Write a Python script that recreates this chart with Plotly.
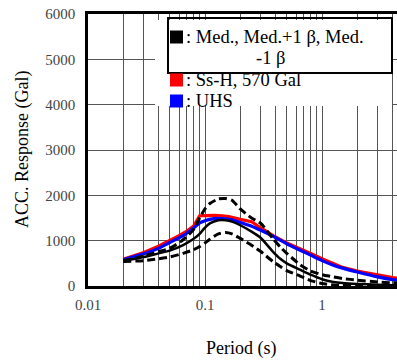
import plotly.graph_objects as go

# ---- data ----
period_ss = [0.02, 0.03, 0.04, 0.05, 0.06, 0.07, 0.08, 0.09, 0.1, 0.12, 0.14, 0.16, 0.2, 0.25, 0.3, 0.4, 0.5, 0.65, 0.8, 1.0, 1.5, 2.0, 3.0, 4.0, 5.0]
ss_h = [590, 740, 880, 1000, 1110, 1210, 1320, 1550, 1555, 1560, 1550, 1530, 1470, 1420, 1280, 1080, 950, 830, 720, 600, 410, 330, 240, 185, 155]

period = [0.02, 0.03, 0.04, 0.05, 0.065, 0.08, 0.09, 0.1, 0.11, 0.13, 0.15, 0.17, 0.2, 0.25, 0.3, 0.38, 0.44, 0.5, 0.65, 0.8, 1.0, 1.25, 1.5, 2.0, 3.0, 4.0, 5.0]
uhs = [580, 710, 830, 960, 1110, 1280, 1390, 1440, 1470, 1490, 1480, 1460, 1400, 1320, 1230, 1100, 1010, 930, 790, 680, 560, 460, 395, 310, 200, 140, 115]
med = [550, 640, 720, 780, 900, 1040, 1150, 1290, 1380, 1450, 1450, 1420, 1340, 1200, 1060, 760, 600, 500, 360, 250, 150, 90, 65, 45, 28, 18, 14]
med_p1 = [560, 660, 760, 830, 1020, 1250, 1500, 1700, 1820, 1920, 1930, 1890, 1700, 1500, 1380, 1050, 860, 720, 470, 330, 250, 200, 165, 130, 90, 70, 60]
med_m1 = [540, 560, 600, 640, 720, 800, 870, 950, 1030, 1150, 1180, 1150, 1050, 900, 760, 540, 430, 340, 220, 120, 55, 25, 15, 10, 6, 5, 4]

x_major = [0.01, 0.1, 1]
x_major_labels = ["0.01", "0.1", "1"]
y_ticks = [0, 1000, 2000, 3000, 4000, 5000, 6000]

legend_labels = [": Med., Med.+1 \u03b2, Med.", "-1 \u03b2", ": Ss-H, 570 Gal", ": UHS"]

# ---- figure ----
fig = go.Figure()
dash = "8px,4px"
fig.add_trace(go.Scatter(x=period_ss, y=ss_h, mode="lines", line=dict(color="#ff0000", width=3.2)))
fig.add_trace(go.Scatter(x=period, y=uhs, mode="lines", line=dict(color="#0000ff", width=3.2, shape="spline", smoothing=0.6)))
fig.add_trace(go.Scatter(x=period, y=med_p1, mode="lines", line=dict(color="black", width=3, dash=dash, shape="spline", smoothing=0.6)))
fig.add_trace(go.Scatter(x=period, y=med_m1, mode="lines", line=dict(color="black", width=3, dash=dash, shape="spline", smoothing=0.6)))
fig.add_trace(go.Scatter(x=period, y=med, mode="lines", line=dict(color="black", width=2.5, shape="spline", smoothing=0.6)))

# all log grid positions
tickvals, ticktext = [], []
for e in [-2, -1, 0]:
    for k in range(1, 10):
        v = round(k * 10 ** e, 6)
        tickvals.append(v)
        ticktext.append(x_major_labels[x_major.index(v)] if v in x_major else "")

W, H = 397, 361
L, R, T, B = 88, 0, 14, 75
pw, ph = W - L - R, H - T - B
xmax_log = -2 + pw / 117.0

def px(xp):
    return (xp - L) / pw

def py(yp):
    return (H - B - yp) / ph

SERIF = "Liberation Serif"

fig.update_layout(
    width=W, height=H,
    margin=dict(l=L, r=R, t=T, b=B),
    paper_bgcolor="white", plot_bgcolor="white",
    showlegend=False,
    font=dict(family=SERIF, color="black"),
    xaxis=dict(type="log", range=[-2, xmax_log], tickvals=tickvals, ticktext=ticktext,
               showgrid=True, gridcolor="#555", gridwidth=1.2,
               showline=True, linecolor="black", linewidth=2.5, mirror=True,
               ticks="", ticklabelstandoff=3, zeroline=False,
               tickfont=dict(size=15, color="#444", family=SERIF)),
    yaxis=dict(range=[0, 6000], tickvals=y_ticks, showgrid=True, gridcolor="#555", gridwidth=1.2,
               showline=True, linecolor="black", linewidth=2.5, mirror=False,
               ticks="", ticklabelstandoff=7, zeroline=False,
               tickfont=dict(size=15, color="#444", family=SERIF)),
)

# legend box
shapes = [
    dict(type="rect", xref="paper", yref="paper", x0=px(155), x1=px(392), y0=py(106), y1=py(20),
         fillcolor="white", line=dict(width=0), layer="above"),
    dict(type="rect", xref="paper", yref="paper", x0=px(168), x1=px(392), y0=py(73), y1=py(18),
         fillcolor="rgba(0,0,0,0)", line=dict(color="black", width=2), layer="above"),
]
for color, yc in [("black", 37), ("#ff0000", 80), ("#0000ff", 101)]:
    shapes.append(dict(type="rect", xref="paper", yref="paper", x0=px(170), x1=px(183),
                       y0=py(yc + 6.5), y1=py(yc - 6.5), fillcolor=color, line=dict(width=0), layer="above"))
fig.update_layout(shapes=shapes)

ann = []
for txt, xp, yp, anchor in [(legend_labels[0], 184, 37, "left"), (legend_labels[1], 270, 58, "center"),
                            (legend_labels[2], 184, 80, "left"), (legend_labels[3], 184, 101, "left")]:
    ann.append(dict(text=txt, xref="paper", yref="paper", x=px(xp), y=py(yp), xanchor=anchor, yanchor="middle",
                    showarrow=False, font=dict(size=18.5, family=SERIF, color="black")))
ann.append(dict(text="ACC. Response (Gal)", xref="paper", yref="paper", x=px(22), y=0.5, textangle=-90,
                xanchor="center", yanchor="middle", showarrow=False, font=dict(size=18, family=SERIF)))
ann.append(dict(text="Period (s)", xref="paper", yref="paper", x=px(241), y=py(348), xanchor="center",
                yanchor="middle", showarrow=False, font=dict(size=18, family=SERIF)))
fig.update_layout(annotations=ann)

fig.write_html("out.html", config={"displayModeBar": False},
               post_script="document.body.style.margin='0';document.body.style.padding='0';")
